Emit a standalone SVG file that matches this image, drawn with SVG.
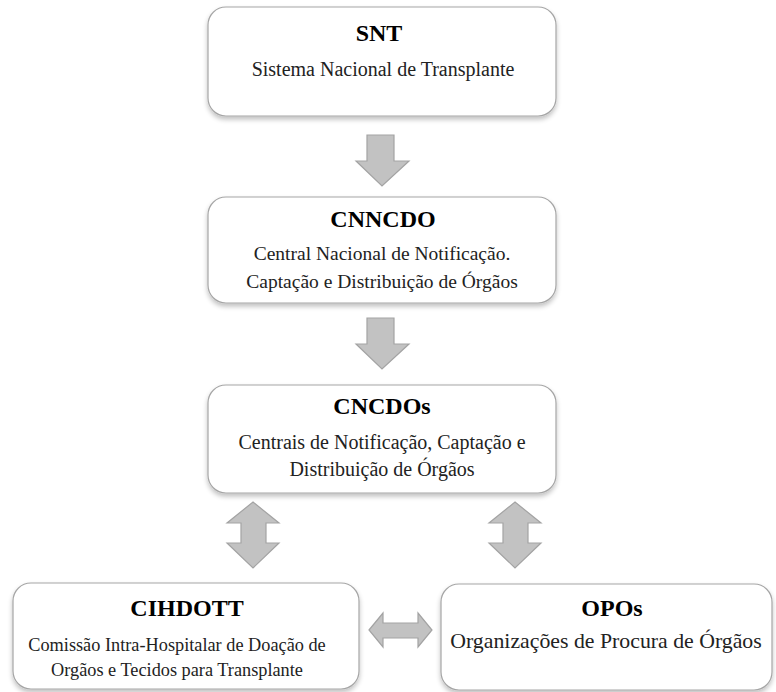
<svg xmlns="http://www.w3.org/2000/svg" width="776" height="692" viewBox="0 0 776 692">
<defs>
<filter id="sh" x="-10%" y="-10%" width="120%" height="130%">
<feGaussianBlur in="SourceAlpha" stdDeviation="2.5"/>
<feOffset dx="0" dy="3" result="b"/>
<feComponentTransfer><feFuncA type="linear" slope="0.25"/></feComponentTransfer>
<feMerge><feMergeNode/><feMergeNode in="SourceGraphic"/></feMerge>
</filter>
<style>
.box{fill:#fff;stroke:#a6a6a6;stroke-width:1.2;filter:url(#sh)}
.t{font-family:"Liberation Serif","Times New Roman",serif;font-size:24px;font-weight:bold;fill:#000;text-anchor:middle}
.s{font-family:"Liberation Serif","Times New Roman",serif;font-size:20px;fill:#222;text-anchor:middle}
.ar{fill:#c2c2c2;stroke:#a3a3a3;stroke-width:1.2;stroke-linejoin:miter}
</style>
</defs>
<rect width="776" height="692" fill="#fff"/>
<g id="connectors">
<path class="ar" d="M367,135 H394 V161 H409 L382,186 L356,161 H367 Z"/>
<path class="ar" d="M367,318 H394 V344 H409 L382,369 L356,344 H367 Z"/>
<path class="ar" d="M253,502 L279,523 H266 V543 H279 L253,568 L227,543 H241 V523 H227 Z"/>
<path class="ar" d="M515,502 L541,523 H528 V543 H541 L515,568 L489,543 H503 V523 H489 Z"/>
<path class="ar" d="M369,630 L383,613 V623 H418 V613 L432,630 L418,647 V638 H383 V647 Z"/>
</g>
<g id="snt">
<rect class="box" x="208" y="7" width="348" height="109" rx="18"/>
<text class="t" x="379" y="41">SNT</text>
<text class="s" x="383" y="76">Sistema Nacional de Transplante</text>
</g>
<g id="cnncdo">
<rect class="box" x="208" y="197" width="348" height="106" rx="18"/>
<text class="t" x="383" y="227">CNNCDO</text>
<text class="s" x="382" y="260" style="font-size:19.5px">Central Nacional de Notificação.</text>
<text class="s" x="382" y="288" style="font-size:19.5px">Captação e Distribuição de Órgãos</text>
</g>
<g id="cncdos">
<rect class="box" x="208" y="385" width="348" height="108" rx="18"/>
<text class="t" x="382" y="414">CNCDOs</text>
<text class="s" x="382" y="449">Centrais de Notificação, Captação e</text>
<text class="s" x="382" y="476">Distribuição de Órgãos</text>
</g>
<g id="cihdott">
<rect class="box" x="13" y="583" width="346" height="106" rx="18"/>
<text class="t" x="187" y="616">CIHDOTT</text>
<text class="s" x="177" y="651" style="font-size:18.3px">Comissão Intra-Hospitalar de Doação de</text>
<text class="s" x="177" y="676" style="font-size:18.3px">Orgãos e Tecidos para Transplante</text>
</g>
<g id="opos">
<rect class="box" x="441" y="584" width="331" height="106" rx="18"/>
<text class="t" x="612" y="616">OPOs</text>
<text class="s" x="606" y="648" style="font-size:21.8px">Organizações de Procura de Órgãos</text>
</g>
</svg>
